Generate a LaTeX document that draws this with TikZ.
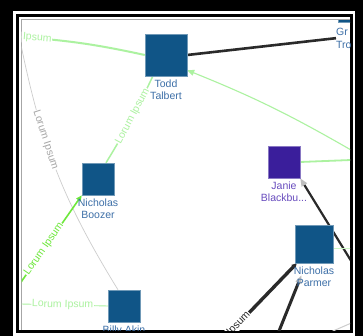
\documentclass[tikz,border=0pt]{standalone}
\usepackage{fontspec}
\setmainfont{Liberation Sans}
\usetikzlibrary{arrows.meta,positioning}
\definecolor{nodeblue}{RGB}{16,85,135}
\definecolor{textblue}{RGB}{62,112,168}
\definecolor{nodepurple}{RGB}{58,30,155}
\definecolor{textpurple}{RGB}{104,76,190}
\definecolor{lightgreen}{RGB}{172,242,160}
\definecolor{brightgreen}{RGB}{110,232,60}
\definecolor{darkedge}{RGB}{42,42,42}
\definecolor{grayedge}{RGB}{205,205,205}
\pgfdeclarelayer{frame}
\pgfdeclarelayer{edges}
\pgfsetlayers{frame,edges,main}

\begin{document}
\begin{tikzpicture}[x=1pt,y=-1pt,
  person/.style={rectangle,fill=nodeblue,draw=nodeblue!60!white,line width=0.4pt,inner sep=0pt,minimum size=32pt},
  personname/.style={align=center,font=\fontsize{10.5}{12.5}\selectfont,text=textblue,inner sep=0pt},
  edgetag/.style={sloped,fill=white,inner sep=0.6pt,font=\fontsize{10.5}{12}\selectfont}]
\useasboundingbox (0,0) rectangle (363,336);
\begin{pgfonlayer}{frame}
\fill (0,0) rectangle (363,336);
\fill[white] (13,11) rectangle (355,336);
\draw[line width=2.7pt] (17.2,15.4) rectangle (351.7,331.5);
\draw[gray!70,line width=1pt] (21,330) -- (21,20) -- (350,20);
\end{pgfonlayer}

\begin{scope}
\clip (21.5,20.5) rectangle (350,330);
\node[person,minimum size=42pt] (todd) at (166,55) {};
\node[personname,below=3pt of todd] (toddlab) {Todd\\Talbert};
\node[person] (boozer) at (98,179) {};
\node[personname,below=3pt of boozer] (boozerlab) {Nicholas\\Boozer};
\node[person] (billy) at (124,306) {};
\node[personname,below=3pt of billy] (billylab) {Billy Akin};
\node[person,fill=nodepurple,draw=nodepurple!60!white] (janie) at (284,162) {};
\node[personname,text=textpurple,below=3pt of janie] (janielab) {Janie\\Blackbu...};
\node[person,minimum size=38pt] (parmer) at (314,244) {};
\node[personname,below=3pt of parmer] (parmerlab) {Nicholas\\Parmer};
\node[person,minimum size=34pt] (greg) at (355,5) {};
\node[personname,align=left,anchor=north west] (greglab) at (336,28) {Gr\\Tro};
\end{scope}

\begin{pgfonlayer}{edges}
\begin{scope}
\clip (21.5,20.5) rectangle (350,330);
\coordinate (a1) at (21,37);
\coordinate (a2) at (21,45);
\coordinate (a4) at (19,285);
\coordinate (a5) at (21,304);
\coordinate (a7) at (351,150);
\coordinate (a8) at (351,160);
\coordinate (a9) at (353,264);
\coordinate (a10) at (218,345);
\coordinate (a11) at (275,341);
\coordinate (a12) at (310,341);
\coordinate (a13) at (356,321);
\coordinate (a14) at (351,248);
\draw[lightgreen,line width=2pt] (todd.west) to[bend right=4] node[edgetag,text=lightgreen,pos=1] {Lorum Ipsum} (a1);
\draw[grayedge,line width=0.7pt] (a2) to[bend right=10] node[edgetag,text=black!35,pos=0.36] {Lorum Ipsum} ([xshift=-6pt]billy.north);
\draw[lightgreen,line width=1.5pt] ([xshift=8pt]todd.south west) to[bend left=3] node[edgetag,text=lightgreen,pos=0.45] {Lorum Ipsum} ([xshift=8pt]boozer.north);
\draw[brightgreen,line width=1.6pt,-{Triangle[length=6pt,width=5pt]}] (a4) -- node[edgetag,text=brightgreen,pos=0.4] {Lorum Ipsum} (boozer.south west);
\draw[lightgreen,line width=0.9pt] (a5) -- node[edgetag,text=lightgreen,pos=0.48] {Lorum Ipsum} (billy.west);
\draw[darkedge,line width=2.6pt] (todd.east) -- (greglab.west);
\draw[lightgreen,line width=1.1pt,-{Triangle[length=7pt,width=6pt]}] (a7) to[bend right=4] ([yshift=6pt]todd.south east);
\draw[lightgreen,line width=1.8pt] (janie.east) -- (a8);
\draw[darkedge,line width=2.2pt,-{Triangle[length=8pt,width=6pt,color=black!25]}] (a9) -- (janie.south east);
\draw[darkedge,line width=3.4pt,-{Triangle[length=5pt,width=5pt]}] (a10) -- node[edgetag,text=darkedge,pos=0.12] {Lorum Ipsum} ([xshift=2pt]parmer.south west);
\draw[darkedge,line width=3pt,shorten >=13pt,-{Triangle[length=8pt,width=6pt,color=black!25]}] (a11) -- (parmer);
\draw[grayedge,line width=1pt] (a12) -- (a13);
\draw[lightgreen!60,line width=0.5pt] ([yshift=-4pt]parmer.east) -- (a14);
\end{scope}
\end{pgfonlayer}
\end{tikzpicture}
\end{document}
